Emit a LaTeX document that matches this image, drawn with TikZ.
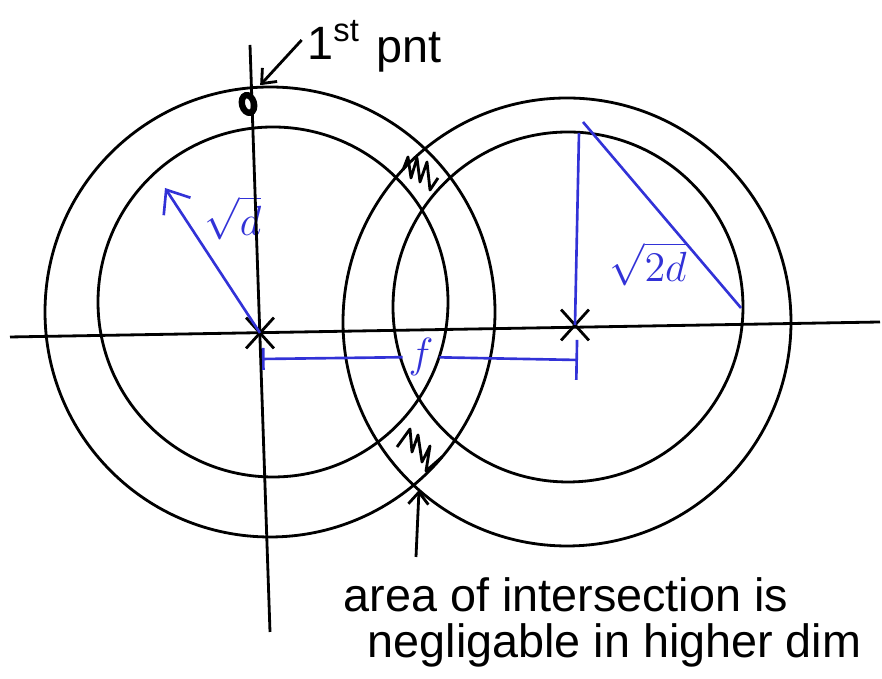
\documentclass[tikz,border=0pt]{standalone}
\usepackage{fontspec}
\setmainfont{Liberation Sans}
\usetikzlibrary{shapes.misc, shapes.geometric, arrows.meta, positioning, calc}
\definecolor{penblue}{RGB}{50,50,215}

\begin{document}
\begin{tikzpicture}[
    x=0.1mm, y=-0.1mm,
    % Define styles
    axis/.style={
        draw,
        line width=0.8pt,
        black
    },
    ring/.style={
        draw,
        line width=0.8pt,
        black
    },
    centermark/.style={
        cross out,
        draw,
        line width=0.8pt,
        minimum width=2.5mm,
        minimum height=2.8mm,
        inner sep=0pt
    },
    pointdot/.style={
        ellipse,
        draw,
        line width=1.8pt,
        minimum width=1.2mm,
        minimum height=1.8mm,
        inner sep=0pt
    },
    bluepen/.style={
        draw,
        line width=0.75pt,
        penblue
    },
    squiggle/.style={
        draw,
        line width=0.8pt,
        line join=round
    },
    hand/.style={
        font=\fontsize{13.3}{14}\selectfont,
        inner sep=0pt
    },
    bluelabel/.style={
        font=\fontsize{12}{13}\selectfont,
        text=penblue,
        inner sep=1.5pt
    },
    pointer/.style={
        draw,
        line width=0.8pt,
        -{Straight Barb[length=1.2mm, width=2mm]}
    }
]
\useasboundingbox (0,0) rectangle (882,679);

% Place nodes
% Centres of the two balls
\node[centermark] (lc) at (260,333) {};
\node[centermark] (rc) at (575,325) {};

% First point and its label
\node[pointdot, rotate=15] (dot) at (248,104) {};
\node[hand] (first) at (334,40) {1\textsuperscript{st}};
\node[hand, anchor=base west] (pnt) at (376,63) {pnt};

% Blue labels
\node[bluelabel] (sqrtd) at (233,218) {$\sqrt{d}$};
\node[bluelabel] (sqrttwod) at (648,264) {$\sqrt{2d}$};
\node[bluelabel] (flbl) at (421,357) {$f$};

% Note below
\node[hand, anchor=base west] (note) at (343,612) {area of intersection is};
\node[hand, anchor=base west] (notetwo) at (367,658) {negligable in higher dim};

% Free ends
\coordinate (dtip) at (165,188);
\coordinate (rtop) at (579,133);
\coordinate (hypa) at (583,122);
\coordinate (hypb) at (741,308);
\coordinate (fl) at (262,359);
\coordinate (fr) at (578,360);
\coordinate (ix) at (419,490);
\coordinate (itail) at (416,557);

% Draw edges
% Axes
\path[axis] (10,337) -- (880,322);
\path[axis] (250,45) -- (270,632);

% Rings
\path[ring] (270,312) circle[radius=22.5mm];
\path[ring] (273,302) circle[radius=17.5mm];
\path[ring] (567,322) circle[radius=22.4mm];
\path[ring] (568,307) circle[radius=17.5mm];

% Squiggles in the overlap
\path[squiggle] (403,170) -- (408,157) -- (411,178) -- (417,158) -- (420,182)
    -- (427,162) -- (430,190) -- (438,178);
\path[squiggle] (397,447) -- (410,429) -- (412,452) -- (418,435) -- (422,462)
    -- (430,446) -- (426,471) -- (442,457);

% First point
\path[pointer, shorten >=1.2mm] ([xshift=-0.5mm]first.west) -- (dot.north east);

% Radii
\path[bluepen, -{Straight Barb[length=2mm, width=3.2mm]}] (lc.center) -- (dtip);
\path[bluepen] (rc.center) -- (rtop);
\path[bluepen] (hypa) -- (hypb);

% Distance between centres
\path[bluepen, {Bar[width=2.2mm]}-] (fl) -- (flbl);
\path[bluepen, -{Bar[width=4mm]}] (flbl) -- (fr);

% Note arrow
\path[pointer] (itail) -- (ix);

\end{tikzpicture}
\end{document}
